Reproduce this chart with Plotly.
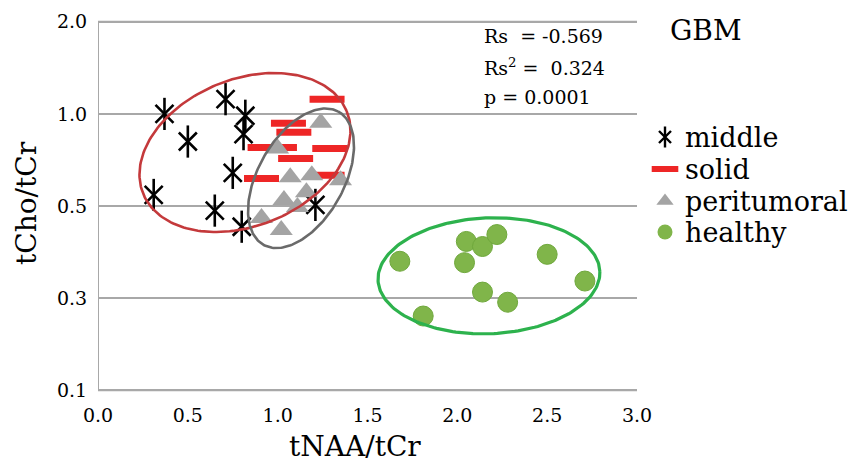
import numpy as np
import plotly.graph_objects as go

y_ticks_vals = [0.1, 0.3, 0.5, 1.0, 2.0]
y_tick_labels = ["0.1", "0.3", "0.5", "1.0", "2.0"]
x_ticks = [0.0, 0.5, 1.0, 1.5, 2.0, 2.5, 3.0]

middle_naa = [0.31, 0.37, 0.50, 0.71, 0.82, 0.81, 0.75, 0.65, 0.80, 1.21]
middle_cho = [0.56, 1.00, 0.85, 1.16, 0.99, 0.89, 0.68, 0.49, 0.455, 0.506]

solid_naa = [1.275, 1.06, 1.09, 0.93, 1.01, 1.29, 1.10, 0.91, 1.275]
solid_cho = [1.16, 0.95, 0.90, 0.817, 0.817, 0.812, 0.758, 0.65, 0.667]

peri_naa = [1.00, 1.24, 1.07, 1.19, 1.35, 1.035, 1.16, 1.11, 0.91, 1.02]
peri_cho = [0.812, 0.952, 0.656, 0.667, 0.64, 0.532, 0.575, 0.498, 0.474, 0.448]

healthy_naa = [1.68, 2.05, 2.14, 2.22, 2.04, 2.50, 2.71, 2.14, 2.28, 1.81]
healthy_cho = [0.380, 0.423, 0.412, 0.438, 0.377, 0.395, 0.337, 0.313, 0.291, 0.261]

legend_names = ["middle", "solid", "peritumoral", "healthy"]
stats_lines = ["Rs  = -0.569", "Rs<sup>2</sup> =  0.324", "p = 0.0001"]
x_title = "tNAA/tCr"
y_title = "tCho/tCr"
panel_title = "GBM"

FONT = "DejaVu Serif"
RED = "#ee2626"
GRAY = "#a4a4a4"
GREEN = "#80b54a"

# y axis is drawn with evenly spaced tick positions
tick_pos = list(range(len(y_ticks_vals)))
def ymap(v):
    return np.interp(v, y_ticks_vals, tick_pos)

# plot-area geometry (px)
L, R, T, B = 98, 637, 20, 392
W, H = 849, 466
sx = (R - L) / 3.0        # px per x unit
sy = (B - T) / 4.0        # px per y-index unit

def ellipse(cx, cy, a, b, ang_deg, n=200):
    t = np.linspace(0, 2 * np.pi, n)
    th = np.radians(ang_deg)
    px = a * np.cos(t) * np.cos(th) - b * np.sin(t) * np.sin(th)
    py = a * np.cos(t) * np.sin(th) + b * np.sin(t) * np.cos(th)
    return cx + px / sx, cy + py / sy

fig = go.Figure()

fig.add_trace(go.Scatter(x=middle_naa, y=ymap(middle_cho), mode="markers",
                         marker=dict(symbol="x-thin-open", size=18, color="black",
                                     line=dict(color="black", width=2.6)),
                         hoverinfo="skip"))
fig.add_trace(go.Scatter(x=middle_naa, y=ymap(middle_cho), mode="markers",
                         marker=dict(symbol="line-ns-open", size=23, color="black",
                                     line=dict(color="black", width=2.6)),
                         hoverinfo="skip"))
fig.add_trace(go.Scatter(x=solid_naa, y=ymap(solid_cho), mode="markers",
                         marker=dict(symbol="line-ew-open", size=25, color=RED,
                                     line=dict(color=RED, width=7))))
fig.add_trace(go.Scatter(x=peri_naa, y=ymap(peri_cho), mode="markers",
                         marker=dict(symbol="triangle-up", size=20, color=GRAY,
                                     line=dict(width=0))))
fig.add_trace(go.Scatter(x=healthy_naa, y=ymap(healthy_cho), mode="markers",
                         marker=dict(symbol="circle", size=20, color=GREEN,
                                     line=dict(color="#6fa83c", width=1))))

# enclosing ellipses
for (cx, cyv, a, b, ang, col, lw) in [
    (0.818, 2.581, 110, 74, 22.5, "#c4393b", 2.6),
    (1.130, 2.301, 77, 43, 61, "#6a6a6a", 2.6),
    (2.176, 1.242, 111, 58.5, 2.3, "#2db24d", 3.2),
]:
    ex, ey = ellipse(cx, cyv, a, b, ang)
    fig.add_trace(go.Scatter(x=ex, y=ey, mode="lines", line=dict(color=col, width=lw),
                             hoverinfo="skip"))

# manual legend in a pixel-mapped overlay subplot
leg_x = 665
leg_y = [137, 169, 201, 232]
fig.add_trace(go.Scatter(x=[leg_x], y=[leg_y[0]], xaxis="x2", yaxis="y2", mode="markers",
                         marker=dict(symbol="x-thin-open", size=12, color="black",
                                     line=dict(color="black", width=2.4)), hoverinfo="skip"))
fig.add_trace(go.Scatter(x=[leg_x], y=[leg_y[0]], xaxis="x2", yaxis="y2", mode="markers",
                         marker=dict(symbol="line-ns-open", size=15, color="black",
                                     line=dict(color="black", width=2.4)), hoverinfo="skip"))
fig.add_trace(go.Scatter(x=[leg_x], y=[leg_y[1]], xaxis="x2", yaxis="y2", mode="markers",
                         marker=dict(symbol="line-ew-open", size=19, color=RED,
                                     line=dict(color=RED, width=6)), hoverinfo="skip"))
fig.add_trace(go.Scatter(x=[leg_x], y=[leg_y[2]], xaxis="x2", yaxis="y2", mode="markers",
                         marker=dict(symbol="triangle-up", size=15, color=GRAY), hoverinfo="skip"))
fig.add_trace(go.Scatter(x=[leg_x], y=[leg_y[3]], xaxis="x2", yaxis="y2", mode="markers",
                         marker=dict(symbol="circle", size=15, color=GREEN), hoverinfo="skip"))
for name, yy in zip(legend_names, leg_y):
    fig.add_annotation(x=683, y=yy, xref="x2", yref="y2", text=name, showarrow=False,
                       xanchor="left", yanchor="middle",
                       font=dict(family=FONT, size=27, color="black"))

# stats text
for txt, yy in zip(stats_lines, [36, 67, 97]):
    fig.add_annotation(x=482, y=yy, xref="x2", yref="y2", text=txt, showarrow=False,
                       xanchor="left", yanchor="middle",
                       font=dict(family=FONT, size=19, color="black"))
fig.add_annotation(x=668, y=30, xref="x2", yref="y2", text=panel_title, showarrow=False,
                   xanchor="left", yanchor="middle",
                   font=dict(family=FONT, size=28, color="black"))

# axis titles
fig.add_annotation(x=355, y=446, xref="paper", yref="paper", text=x_title, showarrow=False,
                   xanchor="center", yanchor="middle",
                   font=dict(family=FONT, size=28, color="black"))
fig.add_annotation(x=26, y=203, xref="paper", yref="paper", text=y_title, showarrow=False,
                   textangle=-90, xanchor="center", yanchor="middle",
                   font=dict(family=FONT, size=28, color="black"))
# convert the two pixel-placed title annotations to paper fractions
for ann in fig.layout.annotations[-2:]:
    ann.x = (ann.x - L) / (W - L)
    ann.y = (B - ann.y) / (B - T)

grid_col = "#a8a8a8"
fig.update_layout(
    width=W, height=H,
    margin=dict(l=L, r=0, t=T, b=H - B, autoexpand=False),
    paper_bgcolor="white", plot_bgcolor="rgba(0,0,0,0)",
    font=dict(family=FONT, color="black"),
    showlegend=False,
    xaxis=dict(domain=[0, (R - L) / (W - L)], range=[0, 3], tickvals=x_ticks,
               ticktext=[f"{v:.1f}" for v in x_ticks], showgrid=False, zeroline=False,
               showline=False, ticks="outside", ticklen=6, tickcolor="rgba(0,0,0,0)",
               automargin=False, tickfont=dict(family=FONT, size=19)),
    yaxis=dict(range=[-0.02, 4.02], tickvals=tick_pos, ticktext=y_tick_labels,
               showgrid=True, gridcolor=grid_col, gridwidth=2, zeroline=False,
               showline=False, ticks="outside", ticklen=6, tickcolor="rgba(0,0,0,0)",
               automargin=False, tickfont=dict(family=FONT, size=19)),
    xaxis2=dict(domain=[0, 1], range=[L, W], visible=False, fixedrange=True, anchor="y2"),
    yaxis2=dict(domain=[0, 1], range=[B, T], visible=False, fixedrange=True, anchor="x2"),
)
# left axis line and edge gridlines
fig.add_shape(type="line", xref="x", yref="y", x0=0, x1=0, y0=0, y1=4,
              line=dict(color=grid_col, width=2), layer="below")
for yv in (tick_pos[0], tick_pos[-1]):
    fig.add_shape(type="line", xref="x", yref="y", x0=0, x1=3, y0=yv, y1=yv,
                  line=dict(color=grid_col, width=2), layer="below")

fig.write_html("out.html", config={"displayModeBar": False},
               post_script="document.body.style.margin='0';")
